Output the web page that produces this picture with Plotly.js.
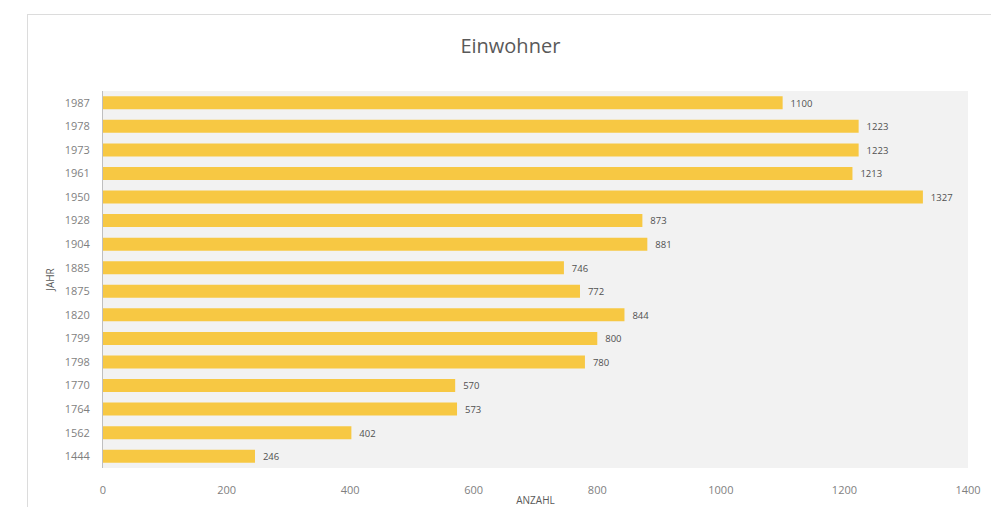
<!DOCTYPE html>
<html>
<head>
<meta charset="utf-8">
<script src="https://cdn.plot.ly/plotly-3.0.1.min.js"></script>
<style>
  html, body { margin: 0; padding: 0; background: #ffffff; }
  #card { position: absolute; left: 27px; top: 14px; width: 990px; height: 520px; border: 1px solid #dcdcdc; background: #ffffff; box-sizing: border-box; }
  #chart { position: absolute; left: 0; top: 0; width: 991px; height: 507px; }
</style>
</head>
<body>
<div id="card"></div>
<div id="chart"></div>
<script>
const years = ["1987","1978","1973","1961","1950","1928","1904","1885","1875","1820","1799","1798","1770","1764","1562","1444"];
const inhabitants = [1100,1223,1223,1213,1327,873,881,746,772,844,800,780,570,573,402,246];
const xTicks = [0,200,400,600,800,1000,1200,1400];

const trace = {
  type: 'bar',
  orientation: 'h',
  y: years,
  x: inhabitants,
  marker: { color: '#F7C843' },
  text: inhabitants.map(v => '\u00a0\u00a0' + v),
  textposition: 'outside',
  cliponaxis: false,
  textfont: { family: 'Open Sans, sans-serif', size: 11, color: '#505050' },
  hoverinfo: 'x+y'
};

const layout = {
  width: 991, height: 507,
  paper_bgcolor: 'rgba(0,0,0,0)',
  plot_bgcolor: '#f2f2f2',
  margin: { l: 103, r: 23, t: 91, b: 39 },
  bargap: 0.45,
  showlegend: false,
  font: { family: 'Open Sans, sans-serif', color: '#7f7f7f', size: 11 },
  title: {
    text: 'Einwohner',
    x: 0.515, xanchor: 'center',
    y: 0.91, yanchor: 'middle',
    font: { family: 'Open Sans, sans-serif', size: 20, color: '#595959' }
  },
  xaxis: {
    range: [0, 1400],
    tickvals: xTicks,
    ticktext: xTicks.map(String),
    showgrid: false,
    zeroline: false,
    showline: false,
    ticks: 'outside', ticklen: 12, tickcolor: 'rgba(0,0,0,0)',
    tickfont: { size: 11, color: '#7f7f7f' },
    title: { text: 'ANZAHL', font: { size: 10, color: '#595959' }, standoff: 7 }
  },
  yaxis: {
    type: 'category',
    autorange: 'reversed',
    showgrid: false,
    zeroline: false,
    showline: true, linecolor: '#bfbfbf', linewidth: 1,
    ticks: 'outside', ticklen: 10, tickcolor: 'rgba(0,0,0,0)',
    tickfont: { size: 11, color: '#7f7f7f' },
    title: { text: 'JAHR', font: { size: 10, color: '#595959' }, standoff: 8 }
  }
};

Plotly.newPlot('chart', [trace], layout, { displayModeBar: false, staticPlot: true });
</script>
</body>
</html>
